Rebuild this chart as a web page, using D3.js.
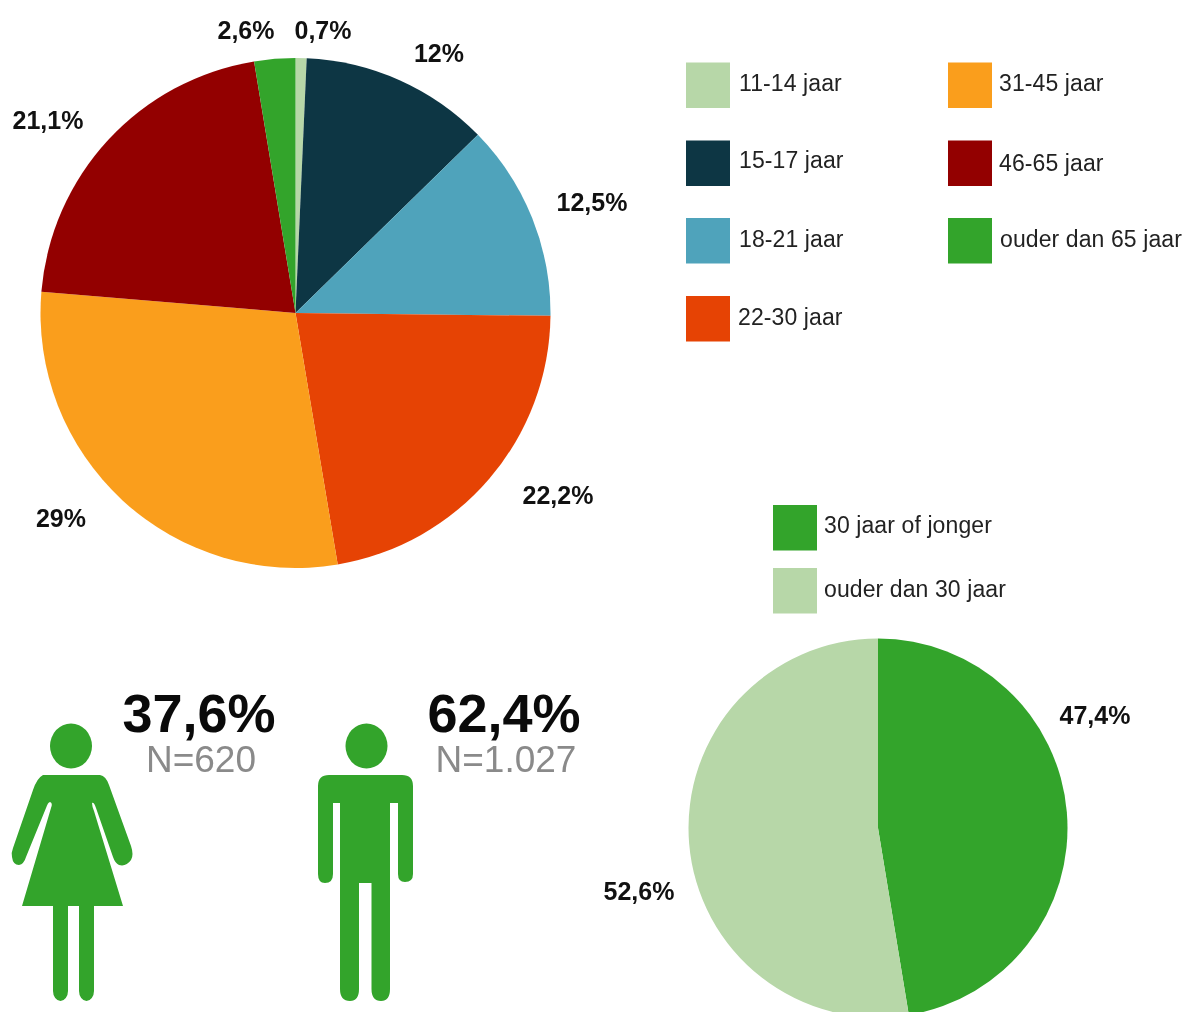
<!DOCTYPE html>
<html><head><meta charset="utf-8">
<script src="https://cdn.jsdelivr.net/npm/d3@7"></script>
<style>html,body{margin:0;padding:0;background:#fff;overflow:hidden}svg{display:block;filter:blur(0.5px)}text{font-family:"Liberation Sans",Arial,sans-serif}</style>
</head><body><svg id="c" width="1185" height="1012"></svg>
<script>
const ageCategories = ["11-14 jaar","15-17 jaar","18-21 jaar","22-30 jaar","31-45 jaar","46-65 jaar","ouder dan 65 jaar"];
const ageValues = [0.7,12,12.5,22.2,29,21.1,2.6];
const ageLabels = ["0,7%","12%","12,5%","22,2%","29%","21,1%","2,6%"];
const ageColors = ["#b7d7a8","#0d3644","#4fa3bb","#e64304","#fa9e1c","#930000","#33a42b"];
const splitCategories = ["30 jaar of jonger","ouder dan 30 jaar"];
const splitValues = [47.4,52.6];
const splitLabels = ["47,4%","52,6%"];
const splitColors = ["#33a42b","#b7d7a8"];
const genderShares = ["37,6%","62,4%"];
const genderCounts = ["N=620","N=1.027"];

const svg = d3.select("#c");
const GREEN = "#33a42b";

function drawPie(cx, cy, r, values, colors, labels, labelAnchors){
  const arcs = d3.pie().sort(null)(values);
  const arc = d3.arc().innerRadius(0).outerRadius(r);
  const g = svg.append("g").attr("transform",`translate(${cx},${cy})`);
  g.selectAll("path").data(arcs).join("path")
    .attr("d",arc).attr("fill",(d,i)=>colors[i]);
  svg.append("g").selectAll("text").data(labels).join("text")
    .attr("x",(d,i)=>labelAnchors[i][0]).attr("y",(d,i)=>labelAnchors[i][1])
    .attr("text-anchor","middle").attr("font-weight","700").attr("font-size",25)
    .attr("fill","#111").text(d=>d);
}
drawPie(295.5,313,255,ageValues,ageColors,ageLabels,
  [[323,39],[439,62],[592,211],[558,504],[61,527],[48,129],[246,39]]);
drawPie(878,828,189.5,splitValues,splitColors,splitLabels,[[1095,724],[639,900]]);

function drawLegend(items, colors, slots){
  const g = svg.append("g");
  items.forEach((t,i)=>{
    const s = slots[i];
    g.append("rect").attr("x",s.x).attr("y",s.y).attr("width",44).attr("height",45.5).attr("fill",colors[i]);
    g.append("text").attr("x",s.tx).attr("y",s.by).attr("font-size",23).attr("letter-spacing",0.1).attr("fill","#222").text(t);
  });
}
drawLegend(ageCategories, ageColors, [
  {x:686,y:62.5,tx:739,by:91},{x:686,y:140.5,tx:739,by:168},{x:686,y:218,tx:739,by:247},{x:686,y:296,tx:738,by:325},
  {x:948,y:62.5,tx:999,by:91},{x:948,y:140.5,tx:999,by:170.5},{x:948,y:218,tx:1000,by:247}]);
drawLegend(splitCategories, splitColors, [
  {x:773,y:505,tx:824,by:533},{x:773,y:568,tx:824,by:597}]);

// pictograms
const woman = "M43,775 H100 Q106,776 109,785 L131,846 Q134,855 131,860 Q126,867 119,865 Q115,863 113,857 L96,808 Q94,802 92,803 Q92,806 94,811 L123,906 H94 V991 A7.5,10 0 0 1 79,991 V906 H68 V991 A7.5,10 0 0 1 53,991 V906 H22 L51,808 Q53,803 50,802 Q48,802 46,808 L26,857 Q24,864 19,865 Q13,865 12,857 Q11,853 13,848 L33,790 Q37,778 43,775 Z";
const man = "M329,775 H402 Q413,775 413,786 V874 Q413,882 405,882 Q398,882 398,874 V803 H390 V989 Q390,1001 381,1001 Q371.5,1001 371.5,989 V883 H359 V989 Q359,1001 350,1001 Q340,1001 340,989 V803 H333 V874 Q333,883 325,883 Q318,883 318,874 V786 Q318,775 329,775 Z";
svg.append("path").attr("d",woman).attr("fill",GREEN);
svg.append("ellipse").attr("cx",71).attr("cy",746).attr("rx",21).attr("ry",22.5).attr("fill",GREEN);
svg.append("path").attr("d",man).attr("fill",GREEN);
svg.append("ellipse").attr("cx",366.5).attr("cy",746).attr("rx",21).attr("ry",22.5).attr("fill",GREEN);

const shareX = [199,504], countX = [201,506];
svg.append("g").selectAll("text").data(genderShares).join("text")
  .attr("x",(d,i)=>shareX[i]).attr("y",732).attr("text-anchor","middle")
  .attr("font-weight","700").attr("font-size",54).attr("fill","#0a0a0a").text(d=>d);
svg.append("g").selectAll("text").data(genderCounts).join("text")
  .attr("x",(d,i)=>countX[i]).attr("y",772).attr("text-anchor","middle")
  .attr("font-size",37).attr("fill","#8a8a8a").text(d=>d);
</script></body></html>
